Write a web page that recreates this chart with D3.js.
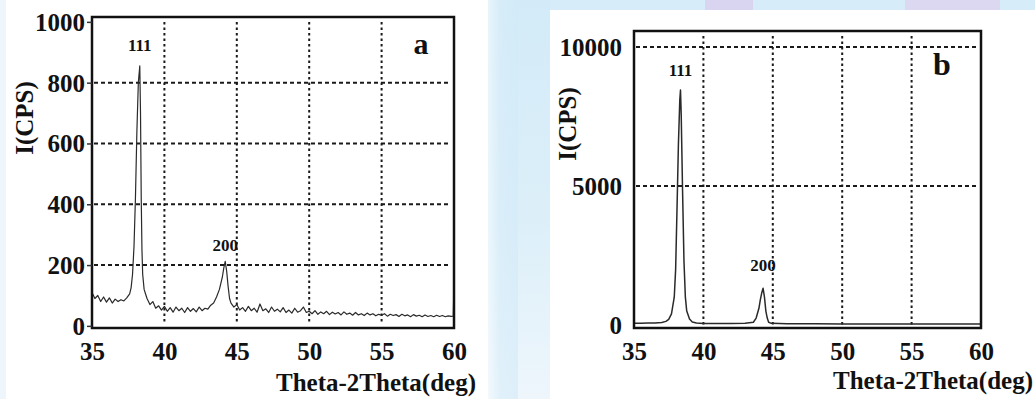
<!DOCTYPE html>
<html><head><meta charset="utf-8">
<script src="https://cdn.jsdelivr.net/npm/d3@7"></script>
<style>
html,body{margin:0;padding:0;background:#fff;}
svg{display:block;}
text{font-family:"Liberation Serif","Times New Roman",serif;font-weight:bold;fill:#111;}
</style></head>
<body>
<svg id="chart" width="1035" height="399"></svg>
<script>
// ---------- DATA ----------
const xTicks = [35, 40, 45, 50, 55, 60];
const xGrid = [40, 45, 50, 55];
const xTitle = "Theta-2Theta(deg)";
const yTitle = "I(CPS)";

// Panel a
const yTicksA = [0, 200, 400, 600, 800, 1000];
const yGridA = [200, 400, 600, 800];
const thetaA = [35.0,35.2,35.4,35.6,35.8,36.0,36.2,36.4,36.6,36.8,37.0,37.2,37.4,37.6,37.7,37.8,37.9,38.0,38.1,38.2,38.3,38.35,38.4,38.45,38.5,38.6,38.7,38.8,39.0,39.2,39.4,39.6,39.8,40.0,40.2,40.4,40.6,40.8,41.0,41.2,41.4,41.6,41.8,42.0,42.2,42.4,42.6,42.8,43.0,43.2,43.4,43.6,43.8,44.0,44.1,44.2,44.3,44.4,44.5,44.6,44.8,45.0,45.2,45.4,45.6,45.8,46.0,46.2,46.4,46.6,46.8,47.0,47.2,47.4,47.6,47.8,48.0,48.2,48.4,48.6,48.8,49.0,49.2,49.4,49.6,49.8,50.0,50.2,50.4,50.6,50.8,51.0,51.2,51.4,51.6,51.8,52.0,52.2,52.4,52.6,52.8,53.0,53.2,53.4,53.6,53.8,54.0,54.2,54.4,54.6,54.8,55.0,55.2,55.4,55.6,55.8,56.0,56.2,56.4,56.6,56.8,57.0,57.2,57.4,57.6,57.8,58.0,58.2,58.4,58.6,58.8,59.0,59.2,59.4,59.6,59.8,59.95,60.0];
const cpsA = [110,90,100,80,95,78,92,75,88,80,86,82,92,105,125,170,260,420,640,800,855,700,420,250,170,120,105,90,70,80,58,66,52,64,48,60,45,62,50,58,44,60,48,57,46,62,50,58,55,68,75,95,120,160,190,212,180,130,90,75,62,70,52,60,48,64,50,58,45,72,50,56,44,62,48,55,46,60,44,52,42,58,45,50,62,44,48,40,50,38,46,40,48,37,45,39,44,36,46,38,42,35,44,36,40,34,42,36,40,33,38,35,40,32,38,34,37,31,38,33,36,30,37,32,35,30,36,31,34,30,35,31,34,30,33,31,32,145];
const peakLabelsA = [{hkl: "111", theta: 38.3, cps: 905}, {hkl: "200", theta: 44.2, cps: 245}];
const panelTagA = "a";

// Panel b
const yTicksB = [0, 5000, 10000];
const yGridB = [5000, 10000];
const thetaB = [35.0,35.5,36.0,36.5,37.0,37.3,37.5,37.7,37.9,38.0,38.1,38.2,38.3,38.35,38.4,38.5,38.6,38.7,38.8,39.0,39.2,39.5,40.0,41.0,42.0,43.0,43.6,43.8,44.0,44.1,44.2,44.3,44.4,44.5,44.6,44.7,44.9,45.5,46.0,48.0,50.0,52.0,55.0,58.0,60.0];
const cpsB = [60,60,70,70,90,130,200,400,1000,2000,4200,6500,8100,8450,7600,4800,2300,1000,500,220,110,70,50,50,50,60,100,250,600,900,1150,1320,1000,500,250,100,60,50,45,45,40,40,40,40,40];
const peakLabelsB = [{hkl: "111", theta: 38.35, cps: 8950}, {hkl: "200", theta: 44.3, cps: 1950}];
const panelTagB = "b";

// ---------- LAYOUT ----------
const svg = d3.select("#chart");

// background watermark
const defs = svg.append("defs");
const g1 = defs.append("linearGradient").attr("id","band").attr("x1",0).attr("y1",0).attr("x2",0).attr("y2",1);
g1.append("stop").attr("offset","0%").attr("stop-color","#d3ebf8");
g1.append("stop").attr("offset","55%").attr("stop-color","#dceff9");
g1.append("stop").attr("offset","100%").attr("stop-color","#eef6fc");
const g2 = defs.append("linearGradient").attr("id","band2").attr("x1",0).attr("y1",0).attr("x2",1).attr("y2",0);
g2.append("stop").attr("offset","0%").attr("stop-color","#f6fbfe");
g2.append("stop").attr("offset","40%").attr("stop-color","#d8edf9");
g2.append("stop").attr("offset","100%").attr("stop-color","#d2eaf8");
svg.append("rect").attr("x",0).attr("y",0).attr("width",1035).attr("height",399).attr("fill","#fff");
svg.append("rect").attr("x",488).attr("y",0).attr("width",62).attr("height",399).attr("fill","url(#band)");
svg.append("rect").attr("x",488).attr("y",0).attr("width",30).attr("height",399).attr("fill","url(#band2)").attr("opacity",0.6);
svg.append("rect").attr("x",550).attr("y",0).attr("width",485).attr("height",10).attr("fill","#d6edf9");
svg.append("rect").attr("x",705).attr("y",0).attr("width",48).attr("height",10).attr("fill","#d9d5f1");
svg.append("rect").attr("x",905).attr("y",0).attr("width",95).attr("height",10).attr("fill","#dcd8f2");
svg.append("rect").attr("x",0).attr("y",0).attr("width",6).attr("height",399).attr("fill","#eef5fb");

function drawPanel(cfg) {
  const x = d3.scaleLinear().domain([35, 60]).range([cfg.left, cfg.right]);
  const y = d3.scaleLinear().domain(cfg.yDomain).range([cfg.bottom, cfg.top]);
  const g = svg.append("g");

  // grid
  g.selectAll(".hg").data(cfg.yGrid).enter().append("line")
    .attr("x1", cfg.left + 2).attr("x2", cfg.right - 3)
    .attr("y1", d => y(d)).attr("y2", d => y(d))
    .attr("stroke", "#1a1a1a").attr("stroke-width", 2).attr("stroke-dasharray", "4,3");
  g.selectAll(".vg").data(xGrid).enter().append("line")
    .attr("x1", d => x(d)).attr("x2", d => x(d))
    .attr("y1", cfg.vTop).attr("y2", cfg.vBottom)
    .attr("stroke", "#1a1a1a").attr("stroke-width", 2).attr("stroke-dasharray", "2.5,3");

  // data
  const line = d3.line().x(d => x(d[0])).y(d => y(d[1]));
  g.append("path").datum(d3.zip(cfg.theta, cfg.cps))
    .attr("d", line).attr("fill", "none")
    .attr("stroke", "#2a2a2a").attr("stroke-width", cfg.lineW).attr("stroke-linejoin", "round");

  // frame
  g.append("rect").attr("x", cfg.left).attr("y", cfg.top)
    .attr("width", cfg.right - cfg.left).attr("height", cfg.bottom - cfg.top)
    .attr("fill", "none").attr("stroke", "#111").attr("stroke-width", 2.5);

  // y axis
  const ya = d3.axisLeft(y).tickValues(cfg.yTicks).tickSize(cfg.tickLen).tickPadding(cfg.yPad)
    .tickFormat(d => String(d));
  const yg = g.append("g").attr("transform", `translate(${cfg.left},0)`).call(ya);
  yg.select(".domain").remove();
  yg.selectAll(".tick line").attr("stroke", "#333").attr("stroke-width", 1.5);
  yg.selectAll("text").attr("font-size", 25).attr("font-family", "Liberation Serif")
    .attr("font-weight", "bold").attr("fill", "#111").attr("dy", "0.34em");

  // x axis
  const xa = d3.axisBottom(x).tickValues(xTicks).tickSize(0).tickPadding(0).tickFormat(d => String(d));
  const xg = g.append("g").attr("transform", `translate(0,${cfg.xLabelY})`).call(xa);
  xg.select(".domain").remove();
  xg.selectAll("text").attr("font-size", 25).attr("font-family", "Liberation Serif")
    .attr("font-weight", "bold").attr("fill", "#111").attr("dy", 0).attr("y", 0);

  // titles
  g.append("text").attr("x", cfg.xTitleX).attr("y", cfg.xTitleY).attr("text-anchor", "end")
    .attr("font-size", 25).text(xTitle);
  g.append("text").attr("transform", `translate(${cfg.yTitleX},${cfg.yTitleY}) rotate(-90)`)
    .attr("text-anchor", "middle").attr("font-size", 25).text(yTitle);

  // peak labels
  g.selectAll(".pk").data(cfg.peaks).enter().append("text")
    .attr("x", d => x(d.theta)).attr("y", d => y(d.cps))
    .attr("text-anchor", "middle").attr("font-size", 17).text(d => d.hkl);

  // panel tag
  g.append("text").attr("x", cfg.tagX).attr("y", cfg.tagY).attr("text-anchor", "middle")
    .attr("font-size", cfg.tagSize).text(cfg.tag);
}

drawPanel({
  left: 92, right: 454, top: 17, bottom: 328, yDomain: [-7, 1016],
  vTop: 22, vBottom: 322, yGrid: yGridA, yTicks: yTicksA, theta: thetaA, cps: cpsA,
  tickLen: 5, yPad: 2, xLabelY: 360, xTitleX: 476, xTitleY: 391, yTitleX: 33, yTitleY: 118,
  peaks: peakLabelsA, tag: panelTagA, tagX: 421, tagY: 54, tagSize: 30, lineW: 1.2
});

svg.append("rect").attr("x",550).attr("y",10).attr("width",485).attr("height",389).attr("fill","#fff").lower();
svg.selectAll("rect").filter(function(){return d3.select(this).attr("fill")==="#fff" && +d3.select(this).attr("width")===1035;}).lower();

drawPanel({
  left: 634, right: 981, top: 31, bottom: 328, yDomain: [-108, 10575],
  vTop: 36, vBottom: 325, yGrid: yGridB, yTicks: yTicksB, theta: thetaB, cps: cpsB,
  tickLen: 0, yPad: 12, xLabelY: 360, xTitleX: 1033, xTitleY: 389, yTitleX: 576, yTitleY: 124,
  peaks: peakLabelsB, tag: panelTagB, tagX: 942, tagY: 75, tagSize: 32, lineW: 1.5
});
</script>
</body></html>
